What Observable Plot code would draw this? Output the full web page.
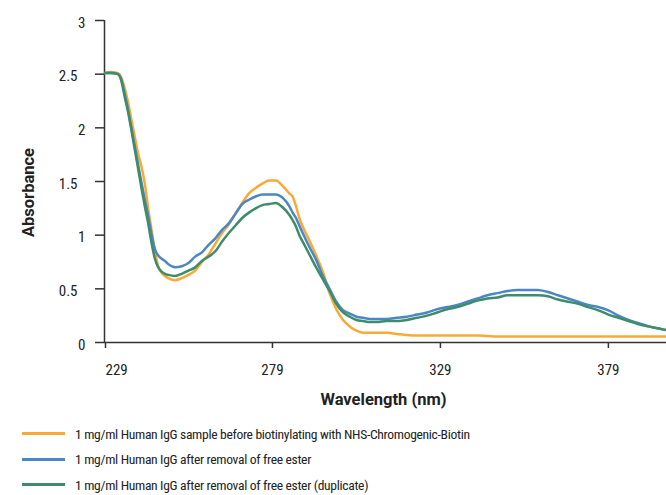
<!DOCTYPE html>
<html><head><meta charset="utf-8">
<script src="https://cdn.jsdelivr.net/npm/d3@7"></script>
<script src="https://cdn.jsdelivr.net/npm/@observablehq/plot@0.6"></script>
<style>
body{margin:0;background:#fff;font-family:"Roboto Condensed","Liberation Sans Narrow","DejaVu Sans Condensed","Arial Narrow",sans-serif;}
#legend{padding:6px 0 0 22px;}
.row{display:flex;align-items:center;height:25.5px;font-size:13.6px;letter-spacing:-0.33px;color:#222;white-space:nowrap}
.sw{width:43px;height:3px;margin-right:10px;flex:none}
</style></head><body><div id="chart"></div><div id="legend"></div>
<script>
const wavelength = [229,231,233,234,235,236,237,238,239,240,241,242,243,244,245,246,247,248,250,252,254,256,258,260,262,264,266,268,270,272,274,276,278,280,282,284,285,286,287,288,290,292,294,296,298,300,302,304,306,308,310,313,316,319,322,325,328,331,334,337,340,343,346,349,352,355,358,361,364,367,370,373,376,379,382,385,388,391,394,397];

const seriesNames = [
  "1 mg/ml Human IgG sample before biotinylating with NHS-Chromogenic-Biotin",
  "1 mg/ml Human IgG after removal of free ester",
  "1 mg/ml Human IgG after removal of free ester (duplicate)"
];
const seriesColors = ["#F9AA36", "#4A87C4", "#3E8C6B"];

const beforeBiotin = [2.51,2.52,2.51,2.47,2.37,2.24,2.08,1.92,1.76,1.64,1.48,1.25,1.05,0.85,0.71,0.65,0.62,0.60,0.58,0.60,0.63,0.67,0.75,0.82,0.92,1.02,1.10,1.20,1.30,1.39,1.44,1.48,1.51,1.51,1.46,1.39,1.36,1.27,1.16,1.08,0.95,0.81,0.66,0.46,0.31,0.21,0.15,0.11,0.09,0.09,0.09,0.09,0.08,0.07,0.065,0.065,0.065,0.065,0.065,0.065,0.065,0.06,0.056,0.056,0.056,0.056,0.056,0.056,0.056,0.056,0.056,0.056,0.056,0.056,0.056,0.056,0.056,0.056,0.056,0.056];
const afterRemoval = [2.51,2.51,2.50,2.45,2.32,2.17,2.00,1.83,1.66,1.49,1.33,1.18,1.01,0.87,0.81,0.78,0.76,0.73,0.70,0.71,0.74,0.80,0.84,0.91,0.97,1.05,1.11,1.20,1.29,1.33,1.36,1.38,1.38,1.38,1.35,1.27,1.21,1.16,1.09,1.02,0.89,0.77,0.62,0.50,0.38,0.30,0.27,0.24,0.23,0.22,0.22,0.22,0.23,0.24,0.26,0.28,0.31,0.33,0.35,0.38,0.41,0.44,0.46,0.48,0.49,0.49,0.49,0.47,0.44,0.41,0.38,0.35,0.33,0.30,0.25,0.21,0.18,0.15,0.13,0.11];
const afterRemovalDup = [2.51,2.51,2.50,2.44,2.29,2.15,1.98,1.80,1.62,1.44,1.27,1.11,0.93,0.78,0.70,0.66,0.64,0.63,0.62,0.64,0.67,0.70,0.76,0.80,0.85,0.94,1.02,1.09,1.16,1.21,1.25,1.28,1.29,1.30,1.26,1.19,1.14,1.08,1.00,0.94,0.82,0.70,0.59,0.48,0.36,0.28,0.24,0.21,0.20,0.19,0.19,0.20,0.20,0.21,0.23,0.25,0.28,0.31,0.33,0.36,0.39,0.41,0.42,0.44,0.44,0.44,0.44,0.43,0.40,0.38,0.36,0.33,0.30,0.26,0.23,0.20,0.17,0.15,0.13,0.11];

const xTicks = [229, 279, 329, 379];
const yTicks = [0, 0.5, 1, 1.5, 2, 2.5, 3];

const allSeries = [beforeBiotin, afterRemoval, afterRemovalDup];
const data = [];
allSeries.forEach((vals, i) => wavelength.forEach((w, j) => data.push({wl: w, abs: vals[j], series: seriesNames[i]})));

const yInt = yTicks.filter(d => Number.isInteger(d));
const yDec = yTicks.filter(d => !Number.isInteger(d));
const xFirst = xTicks.slice(0, 1);
const xRest = xTicks.slice(1);

const font = '"Roboto Condensed","Liberation Sans Narrow","DejaVu Sans Condensed","Arial Narrow",sans-serif';
const boldFont = 'Roboto,"Liberation Sans",sans-serif';
const axisCommon = {fontSize: 15, label: null, tickFormat: d => String(d), stroke: "#333", strokeWidth: 1.5, fill: "#222"};
const chart = Plot.plot({
  width: 666, height: 415,
  marginLeft: 104, marginRight: 0, marginTop: 20, marginBottom: 73,
  style: {fontFamily: font, fontSize: "15px", color: "#222", background: "#fff"},
  x: {domain: [229, 396.3]},
  y: {domain: [0, 3]},
  color: {domain: seriesNames, range: seriesColors},
  marks: [
    Plot.axisY(yTicks, {...axisCommon, tickSize: 9, fill: "none"}),
    Plot.axisY(yInt, {...axisCommon, tickSize: 0, tickPadding: 19, dy: 2.5}),
    Plot.axisY(yDec, {...axisCommon, tickSize: 0, tickPadding: 27, dy: 2.5}),
    Plot.axisX(xRest, {...axisCommon, tickSize: 6, tickPadding: 16}),
    Plot.axisX(xFirst, {...axisCommon, tickSize: 6, tickPadding: 16, textAnchor: "start", dx: 1}),
    Plot.ruleX([229], {y1: 0, y2: 3, stroke: "#333", strokeWidth: 1.5}),
    Plot.ruleY([0], {stroke: "#333", strokeWidth: 1.5}),
    Plot.lineY(data, {x: "wl", y: "abs", z: "series", stroke: "series", strokeWidth: 2.5, clip: true, curve: "monotone-x"}),
    Plot.text(["Absorbance"], {text: d => d, frameAnchor: "left", textAnchor: "middle", dx: -76, dy: 11, rotate: -90, fontWeight: "bold", fontSize: 16.5, fontFamily: boldFont}),
    Plot.text(["Wavelength (nm)"], {text: d => d, frameAnchor: "bottom", textAnchor: "middle", dx: -2, dy: 62, fontWeight: "bold", fontSize: 16.5, fontFamily: boldFont})
  ]
});
document.getElementById("chart").appendChild(chart);

const legend = document.getElementById("legend");
seriesNames.forEach((name, i) => {
  const row = document.createElement("div");
  row.className = "row";
  const sw = document.createElement("span");
  sw.className = "sw";
  sw.style.background = seriesColors[i];
  const t = document.createElement("span");
  t.textContent = name;
  row.appendChild(sw); row.appendChild(t);
  legend.appendChild(row);
});
</script>
</body></html>
